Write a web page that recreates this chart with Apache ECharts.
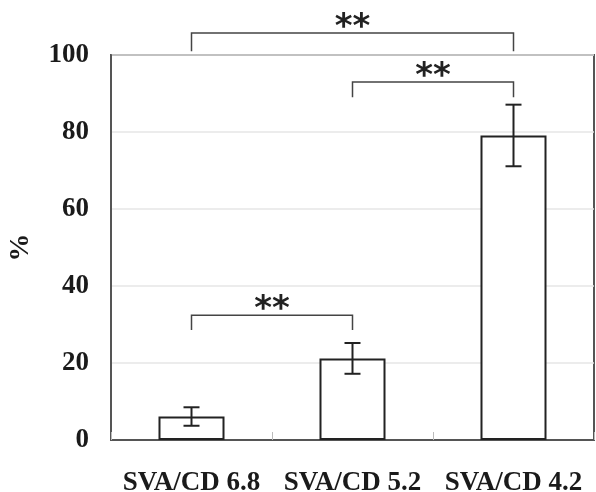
<!DOCTYPE html>
<html>
<head>
<meta charset="utf-8">
<script src="https://cdn.jsdelivr.net/npm/echarts@6/dist/echarts.min.js"></script>
<style>
  html, body { margin: 0; padding: 0; background: #fff; }
  #chart { width: 596px; height: 492px; }
</style>
</head>
<body>
<div id="chart"></div>
<script>
// data
const categories = ['SVA/CD 6.8', 'SVA/CD 5.2', 'SVA/CD 4.2'];
const means = [6.1, 21.2, 79.1];
const errors = [2.4, 4.0, 8.0];

// significance brackets: [from category, to category], bracket height, leg bottom
const bracketPairs = [[0, 2], [1, 2], [0, 1]];
const bracketTops = [105.7, 93.0, 32.4];
const bracketLegEnds = [101.0, 89.0, 28.6];
const bracketMarks = ['**', '**', '**'];

const serif = '"Liberation Serif", "DejaVu Serif", serif';
const ink = '#1a1a1a';

const chart = echarts.init(document.getElementById('chart'));

const errData = means.map((m, i) => [i, m - errors[i], m + errors[i]]);
const bracketData = bracketPairs.map((p, i) => [p[0], p[1], bracketTops[i], bracketLegEnds[i]]);

chart.setOption({
  animation: false,
  grid: {
    left: 111, right: 2, top: 55, bottom: 52,
    outerBoundsMode: 'none',
    containLabel: false,
    show: true, borderColor: '#555', borderWidth: 2
  },
  xAxis: {
    type: 'category',
    data: categories,
    axisLine: { lineStyle: { color: '#555', width: 2 } },
    axisTick: { show: true, inside: true, length: 8, lineStyle: { color: '#bbb' } },
    axisLabel: {
      interval: 0, hideOverlap: false,
      fontFamily: serif, fontWeight: 'bold', fontSize: 27, color: ink, margin: 30
    }
  },
  yAxis: {
    type: 'value',
    min: 0, max: 100, interval: 20,
    name: '%',
    nameLocation: 'middle',
    nameRotate: 90,
    nameGap: 76,
    nameTextStyle: { fontFamily: serif, fontWeight: 'bold', fontSize: 28, color: ink },
    axisLine: { show: true, lineStyle: { color: '#555', width: 2 } },
    axisTick: { show: false },
    axisLabel: { fontFamily: serif, fontWeight: 'bold', fontSize: 27, color: ink, margin: 22 },
    splitLine: { lineStyle: { color: '#e6e6e6', width: 1.5 } }
  },
  series: [
    {
      type: 'bar',
      data: means,
      barWidth: '41%',
      itemStyle: { color: '#fff', borderColor: '#222', borderWidth: 2 }
    },
    {
      type: 'custom',
      data: errData,
      clip: false,
      z: 5,
      renderItem: (params, api) => {
        const lo = api.coord([api.value(0), api.value(1)]);
        const hi = api.coord([api.value(0), api.value(2)]);
        const cap = 8;
        const style = { stroke: '#222', lineWidth: 2 };
        return {
          type: 'group',
          children: [
            { type: 'line', shape: { x1: lo[0], y1: lo[1], x2: hi[0], y2: hi[1] }, style },
            { type: 'line', shape: { x1: lo[0] - cap, y1: lo[1], x2: lo[0] + cap, y2: lo[1] }, style },
            { type: 'line', shape: { x1: hi[0] - cap, y1: hi[1], x2: hi[0] + cap, y2: hi[1] }, style }
          ]
        };
      }
    },
    {
      type: 'custom',
      data: bracketData,
      clip: false,
      z: 5,
      renderItem: (params, api) => {
        const a = api.coord([api.value(0), api.value(2)]);
        const b = api.coord([api.value(1), api.value(2)]);
        const aEnd = api.coord([api.value(0), api.value(3)]);
        const bEnd = api.coord([api.value(1), api.value(3)]);
        const style = { stroke: '#444', lineWidth: 1.5, fill: null };
        return {
          type: 'group',
          children: [
            {
              type: 'polyline',
              shape: { points: [[aEnd[0], aEnd[1]], [a[0], a[1]], [b[0], b[1]], [bEnd[0], bEnd[1]]] },
              style
            },
            {
              type: 'text',
              style: {
                text: bracketMarks[params.dataIndex],
                x: (a[0] + b[0]) / 2,
                y: a[1] + 12,
                align: 'center',
                verticalAlign: 'bottom',
                font: 'bold 34px "DejaVu Sans", sans-serif',
                fill: '#222'
              }
            }
          ]
        };
      }
    }
  ]
});
</script>
</body>
</html>
